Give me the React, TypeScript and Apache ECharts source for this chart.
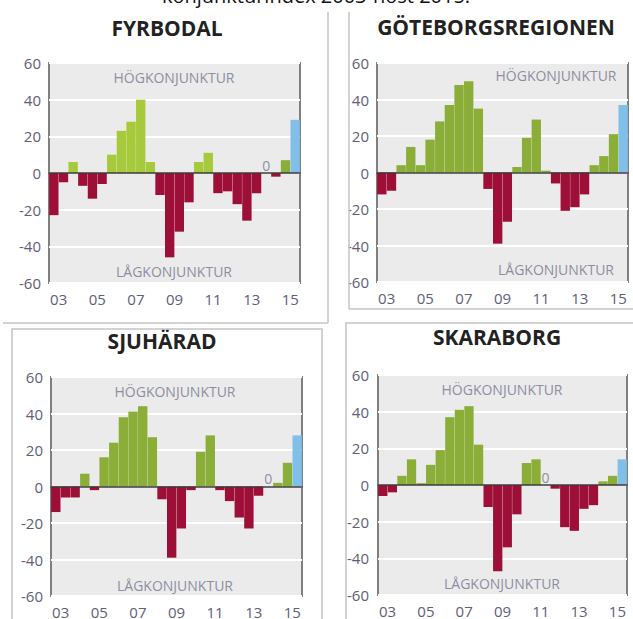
import React, { useEffect, useRef } from 'react';
import * as echarts from 'echarts';

const halfYears = [
  '03v', '03h', '04v', '04h', '05v', '05h', '06v', '06h', '07v', '07h', '08v', '08h', '09v',
  '09h', '10v', '10h', '11v', '11h', '12v', '12h', '13v', '13h', '14v', '14h', '15v', '15h',
];
const yearLabels = ['03', '04', '05', '06', '07', '08', '09', '10', '11', '12', '13', '14', '15'];

const fyrbodal = [-23, -5, 6, -7, -14, -6, 10, 23, 28, 40, 6, -12, -46, -32, -16, 6, 11, -11, -10, -17, -26, -11, 0, -2, 7, 29];
const goteborg = [-12, -10, 4, 14, 4, 18, 28, 37, 48, 50, 35, -9, -39, -27, 3, 19, 29, 1, -6, -21, -19, -12, 4, 9, 21, 37];
const sjuharad = [-14, -6, -6, 7, -2, 16, 24, 38, 41, 44, 27, -7, -39, -23, -2, 19, 28, -2, -8, -17, -23, -5, 0, 2, 13, 28];
const skaraborg = [-6, -4, 5, 14, 1, 11, 19, 37, 41, 43, 22, -12, -47, -34, -16, 12, 14, 0, -2, -23, -25, -13, -11, 2, 5, 14];

const RED = '#9d0f37';
const GREEN_DARK = '#8aae37';
const GREEN_LIGHT = '#a7c93c';
const BLUE = '#80bfe8';
const TICK_COLOR = '#5e5e78';
const NOTE_COLOR = '#8e8ea2';
const FONT = '"Open Sans", "Noto Sans", sans-serif';

const panels = [
  {
    title: 'FYRBODAL', data: fyrbodal, green: GREEN_LIGHT, altGreen: 24,
    grid: { left: 49, top: 63, width: 251, height: 220 }, yMargin: 8,
    titlePos: [167, 28], hog: [174, 77], lag: [174, 271],
  },
  {
    title: 'GÖTEBORGSREGIONEN', data: goteborg, green: GREEN_DARK, altGreen: -1,
    grid: { left: 377, top: 63, width: 251, height: 219 }, yMargin: 8,
    titlePos: [496, 27], hog: [556, 75], lag: [556, 269],
  },
  {
    title: 'SJUHÄRAD', data: sjuharad, green: GREEN_DARK, altGreen: -1,
    grid: { left: 51, top: 377, width: 251, height: 220 }, yMargin: 8,
    titlePos: [162, 341], hog: [175, 391], lag: [175, 585],
  },
  {
    title: 'SKARABORG', data: skaraborg, green: GREEN_DARK, altGreen: -1,
    grid: { left: 378, top: 375, width: 249, height: 220 }, yMargin: 9,
    titlePos: [497, 337], hog: [502, 389], lag: [502, 583],
  },
];

export default function App() {
  const ref = useRef<HTMLDivElement>(null);
  useEffect(() => {
    if (!ref.current) return;
    const chart = echarts.init(ref.current, null, { renderer: 'svg' });
    const grids: any[] = [];
    const xAxes: any[] = [];
    const yAxes: any[] = [];
    const series: any[] = [];
    const graphic: any[] = [];

    panels.forEach((p, i) => {
      grids.push({
        ...p.grid,
        show: true,
        backgroundColor: '#ebebeb',
        borderColor: '#7f7f7f',
        borderWidth: 2,
        z: 0,
      });
      xAxes.push({
        type: 'category', gridIndex: i, data: halfYears, position: 'bottom',
        axisLine: { show: true, onZero: true, lineStyle: { color: '#3a3a3a', width: 1.5 } },
        axisTick: { show: false }, axisLabel: { show: false }, splitLine: { show: false },
        z: 5,
      });
      xAxes.push({
        type: 'category', gridIndex: i, data: yearLabels, position: 'bottom',
        axisLine: { show: false, onZero: false }, axisTick: { show: false },
        axisLabel: { interval: 1, color: TICK_COLOR, fontSize: 15, fontFamily: FONT, margin: 8 },
        splitLine: { show: false },
      });
      yAxes.push({
        type: 'value', gridIndex: i, min: -60, max: 60, interval: 20,
        axisLine: { show: false }, axisTick: { show: false },
        axisLabel: { color: TICK_COLOR, fontSize: 15, fontFamily: FONT, margin: p.yMargin },
        splitLine: { show: true, lineStyle: { color: '#ffffff', width: 2 } },
      });
      const last = p.data.length - 1;
      series.push({
        type: 'bar', xAxisIndex: i * 2, yAxisIndex: i, barCategoryGap: '3%',
        data: p.data.map((v, k) => ({
          value: v,
          itemStyle: {
            color: k === last ? BLUE : v < 0 ? RED : k === p.altGreen ? GREEN_DARK : p.green,
          },
          label: v === 0
            ? { show: true, position: 'top', formatter: '0', color: NOTE_COLOR, fontSize: 14, fontFamily: FONT, distance: 1 }
            : { show: false },
        })),
        z: 3,
      });
      graphic.push({
        type: 'text', x: p.titlePos[0], y: p.titlePos[1], z: 50,
        style: { text: p.title, fill: '#222222', font: `bold 21px ${FONT}`, textAlign: 'center', textVerticalAlign: 'middle' },
      });
      graphic.push({
        type: 'text', x: p.hog[0], y: p.hog[1], z: 50,
        style: { text: 'HÖGKONJUNKTUR', fill: NOTE_COLOR, font: `14px ${FONT}`, textAlign: 'center', textVerticalAlign: 'middle' },
      });
      graphic.push({
        type: 'text', x: p.lag[0], y: p.lag[1], z: 50,
        style: { text: 'LÅGKONJUNKTUR', fill: NOTE_COLOR, font: `14px ${FONT}`, textAlign: 'center', textVerticalAlign: 'middle' },
      });
    });

    // white masks that clip the left side of the right-hand panels
    graphic.push({ type: 'rect', z: 100, shape: { x: 329.5, y: 40, width: 19, height: 268 }, style: { fill: '#ffffff' } });
    graphic.push({ type: 'rect', z: 100, shape: { x: 323.5, y: 324, width: 22, height: 300 }, style: { fill: '#ffffff' } });

    const border = { stroke: '#c4c4c4', lineWidth: 1.5 };
    graphic.push({ type: 'line', z: 101, shape: { x1: 328, y1: 12, x2: 328, y2: 323 }, style: border });
    graphic.push({ type: 'line', z: 101, shape: { x1: 3, y1: 323, x2: 328, y2: 323 }, style: border });
    graphic.push({ type: 'line', z: 101, shape: { x1: 349, y1: 12, x2: 349, y2: 309 }, style: border });
    graphic.push({ type: 'line', z: 101, shape: { x1: 349, y1: 309, x2: 640, y2: 309 }, style: border });
    graphic.push({ type: 'polyline', z: 101, shape: { points: [[12, 630], [12, 329], [322, 329], [322, 630]] }, style: { ...border, fill: null } });
    graphic.push({ type: 'polyline', z: 101, shape: { points: [[346, 630], [346, 323], [640, 323]] }, style: { ...border, fill: null } });

    graphic.push({
      type: 'text', x: 316, y: -5, z: 50,
      style: { text: 'konjunkturindex 2003-höst 2015.', fill: '#111111', font: `20px ${FONT}`, textAlign: 'center', textVerticalAlign: 'middle' },
    });

    chart.setOption({
      animation: false,
      backgroundColor: '#ffffff',
      grid: grids,
      xAxis: xAxes,
      yAxis: yAxes,
      series,
      graphic,
    });
    return () => chart.dispose();
  }, []);

  return (
    <div
      ref={ref}
      style={{ position: 'fixed', left: 0, top: 0, width: 633, height: 619 }}
    />
  );
}
